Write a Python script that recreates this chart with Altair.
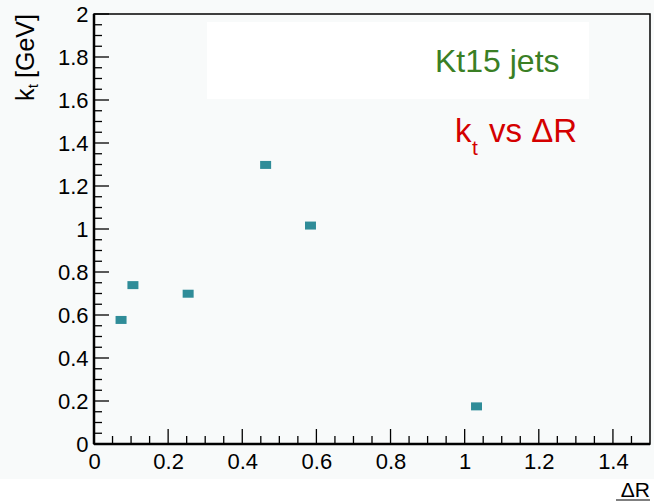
import altair as alt
import pandas as pd

# data
delta_r = [0.073, 0.105, 0.254, 0.463, 0.584, 1.032]
kt = [0.577, 0.739, 0.699, 1.298, 1.016, 0.175]

x_major = [0, 0.2, 0.4, 0.6, 0.8, 1, 1.2, 1.4]
x_minor = [0.05, 0.1, 0.15, 0.25, 0.3, 0.35, 0.45, 0.5, 0.55, 0.65, 0.7, 0.75,
           0.85, 0.9, 0.95, 1.05, 1.1, 1.15, 1.25, 1.3, 1.35, 1.45]
y_major = [0, 0.2, 0.4, 0.6, 0.8, 1, 1.2, 1.4, 1.6, 1.8, 2]
y_minor = [0.05, 0.1, 0.15, 0.25, 0.3, 0.35, 0.45, 0.5, 0.55, 0.65, 0.7, 0.75,
           0.85, 0.9, 0.95, 1.05, 1.1, 1.15, 1.25, 1.3, 1.35, 1.45, 1.5, 1.55,
           1.65, 1.7, 1.75, 1.85, 1.9, 1.95]

W, H = 556, 430
FONT = "Liberation Sans"
BG = "#f8fafa"

pts = pd.DataFrame({"dr": delta_r, "kt": kt})
one = pd.DataFrame({"a": [0]})

xs = alt.Scale(domain=[0, 1.5], nice=False, zero=False)
ys = alt.Scale(domain=[0, 2], nice=False, zero=False)

xaxis = alt.Axis(values=x_major, domain=False, ticks=False, grid=False, labelFont=FONT,
                 labelFontSize=22, labelColor="black", labelPadding=7, title=None,
                 format="~g", labelFlush=False)
yaxis = alt.Axis(values=y_major, domain=False, ticks=False, grid=False, labelFont=FONT,
                 labelFontSize=22, labelColor="black", labelPadding=6, title=None,
                 format="~g", labelFlush=False)

points = alt.Chart(pts).mark_point(
    shape="M-1,-0.727L1,-0.727L1,0.727L-1,0.727Z", filled=True, size=121,
    color="#2f8c98", opacity=1, strokeWidth=0
).encode(
    x=alt.X("dr:Q", scale=xs, axis=xaxis),
    y=alt.Y("kt:Q", scale=ys, axis=yaxis),
)

bottom_strip = alt.Chart(one).mark_rect(color="white").encode(
    x=alt.value(-94), x2=alt.value(W + 4), y=alt.value(465), y2=alt.value(H + 59)
)
box = alt.Chart(one).mark_rect(color="white").encode(
    x=alt.value(113), x2=alt.value(495), y=alt.value(8), y2=alt.value(85)
)

xmaj = alt.Chart(pd.DataFrame({"v": x_major})).mark_rule(color="black", strokeWidth=1.3).encode(
    x=alt.X("v:Q", scale=xs), y=alt.value(H), y2=alt.value(H - 15))
xmin = alt.Chart(pd.DataFrame({"v": x_minor})).mark_rule(color="black", strokeWidth=1.3).encode(
    x=alt.X("v:Q", scale=xs), y=alt.value(H), y2=alt.value(H - 8))
ymaj = alt.Chart(pd.DataFrame({"v": y_major})).mark_rule(color="black", strokeWidth=1.3).encode(
    y=alt.Y("v:Q", scale=ys), x=alt.value(0), x2=alt.value(15))
ymin = alt.Chart(pd.DataFrame({"v": y_minor})).mark_rule(color="black", strokeWidth=1.3).encode(
    y=alt.Y("v:Q", scale=ys), x=alt.value(0), x2=alt.value(8))

frame_left = alt.Chart(one).mark_rule(color="black", strokeWidth=2.5).encode(
    x=alt.value(0), y=alt.value(0), y2=alt.value(H))
frame_bottom = alt.Chart(one).mark_rule(color="black", strokeWidth=2.5).encode(
    x=alt.value(0), x2=alt.value(W), y=alt.value(H))


def txt(text, x, y, size, color="black", align="left", angle=0):
    return alt.Chart(one).mark_text(
        text=text, font=FONT, fontSize=size, color=color, align=align,
        baseline="alphabetic", angle=angle
    ).encode(x=alt.value(x), y=alt.value(y))


t_jets = txt("Kt15 jets", 341, 58, 32, "#3a7f25")
t_k = txt("k", 361, 128, 33, "#d40000")
t_t = txt("t", 378, 141, 21, "#d40000")
t_vs = txt("vs ΔR", 395, 128, 33, "#d40000")

y_gev = txt("[GeV]", -60, 0, 25, align="right", angle=270)
y_t = txt("t", -56, 70, 15, align="right", angle=270)
y_k = txt("k", -60, 74.5, 25, align="right", angle=270)

x_title = txt("ΔR", W, 483, 21, align="right")
x_underline = alt.Chart(one).mark_rule(color="black", strokeWidth=1.2).encode(
    x=alt.value(W - 34), x2=alt.value(W), y=alt.value(486))

chart = alt.layer(
    bottom_strip, box, xmin, xmaj, ymin, ymaj, points, frame_left, frame_bottom,
    t_jets, t_k, t_t, t_vs, y_gev, y_t, y_k, x_title, x_underline
).properties(
    width=W, height=H,
    autosize=alt.AutoSizeParams(type="none"),
    padding={"left": 94, "top": 14, "right": 4, "bottom": 59},
    background=BG,
).configure_view(stroke="black", strokeWidth=1.5, fill=BG)

chart.save("out.html", embed_options={"renderer": "svg", "actions": False})
